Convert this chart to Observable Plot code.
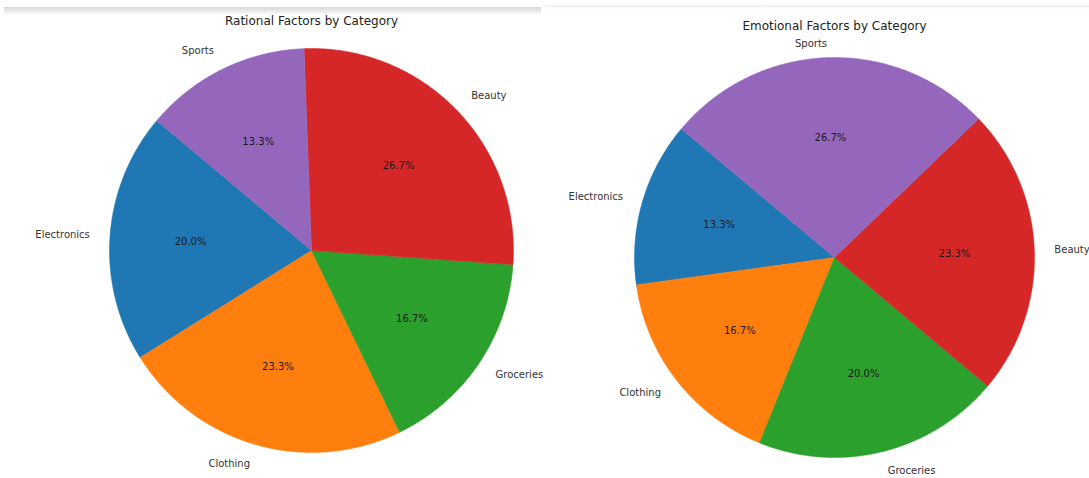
<!DOCTYPE html>
<html>
<head>
<meta charset="utf-8">
<script src="https://cdn.jsdelivr.net/npm/d3@7"></script>
<script src="https://cdn.jsdelivr.net/npm/@observablehq/plot@0.6"></script>
<style>
  html, body { margin: 0; padding: 0; background: #fff; }
  #wrap { position: relative; width: 1089px; height: 478px; overflow: hidden; display: flex; }
  #wrap > .panel { position: relative; z-index: 1; }
  .band { position: absolute; pointer-events: none; z-index: 0; }
</style>
</head>
<body>
<div id="wrap">
  <div class="band" style="left:4px;top:7px;width:537px;height:8px;background:linear-gradient(#d6d6d6,#fff)"></div>
  <div class="band" style="left:545px;top:5px;width:544px;height:4px;background:linear-gradient(#ececec,#fff)"></div>
  <div class="panel" id="p0" style="width:545px;height:478px"></div>
  <div class="panel" id="p1" style="width:544px;height:478px"></div>
</div>
<script>
// ---- data ----
const categories = ["Electronics", "Clothing", "Groceries", "Beauty", "Sports"];
const rationalPct = [20.0, 23.3, 16.7, 26.7, 13.3];
const emotionalPct = [13.3, 16.7, 20.0, 23.3, 26.7];
const chartTitles = ["Rational Factors by Category", "Emotional Factors by Category"];
const colors = ["#1f77b4", "#ff7f0e", "#2ca02c", "#d62728", "#9467bd"];

// ---- layout (not data) ----
const panels = [
  {el: "p0", values: rationalPct, title: chartTitles[0], width: 545, cx: 311, cy: 250, r: 202, titleY: 21},
  {el: "p1", values: emotionalPct, title: chartTitles[1], width: 544, cx: 289, cy: 257, r: 200, titleY: 26}
];
const startAngle = 140; // degrees, counterclockwise like matplotlib

function buildPie(values) {
  const total = d3.sum(values);
  const pts = [];
  const labels = [];
  let t1 = startAngle;
  values.forEach((v, i) => {
    const t2 = t1 + 360 * v / total;
    const cat = categories[i];
    pts.push({category: cat, x: 0, y: 0});
    const n = Math.max(2, Math.ceil(t2 - t1) * 2);
    for (let k = 0; k <= n; k++) {
      const a = (t1 + (t2 - t1) * k / n) * Math.PI / 180;
      pts.push({category: cat, x: Math.cos(a), y: Math.sin(a)});
    }
    pts.push({category: cat, x: 0, y: 0});
    const mid = ((t1 + t2) / 2) * Math.PI / 180;
    labels.push({
      category: cat,
      lx: 1.1 * Math.cos(mid), ly: 1.1 * Math.sin(mid),
      px: 0.6 * Math.cos(mid), py: 0.6 * Math.sin(mid),
      pct: (100 * v / total).toFixed(1) + "%"
    });
    t1 = t2;
  });
  return {pts, labels};
}

// labels sitting right under the title are nudged down a little so they do not collide
const isTop = d => d.ly > 1.08;

for (const p of panels) {
  const {pts, labels} = buildPie(p.values);
  const chart = Plot.plot({
    width: p.width,
    height: 478,
    margin: 0,
    style: {fontFamily: "DejaVu Sans, sans-serif", background: "transparent", overflow: "visible"},
    x: {domain: [-1, 1], range: [p.cx - p.r, p.cx + p.r], axis: null},
    y: {domain: [-1, 1], range: [p.cy + p.r, p.cy - p.r], axis: null},
    color: {domain: categories, range: colors},
    marks: [
      Plot.line(pts, {x: "x", y: "y", z: "category", fill: "category", stroke: "category", strokeWidth: 0.5, curve: "linear"}),
      Plot.text(labels, {filter: d => d.lx > 0 && !isTop(d), x: "lx", y: "ly", text: "category", textAnchor: "start", fontSize: 10, fill: "#333"}),
      Plot.text(labels, {filter: d => d.lx <= 0 && !isTop(d), x: "lx", y: "ly", text: "category", textAnchor: "end", fontSize: 10, fill: "#333"}),
      Plot.text(labels, {filter: d => isTop(d), x: "lx", y: "ly", dy: 6, text: "category", textAnchor: "end", fontSize: 10, fill: "#333"}),
      Plot.text(labels, {x: "px", y: "py", text: "pct", textAnchor: "middle", fontSize: 10, fill: "#1a1a1a"}),
      Plot.text([p.title], {x: 0, frameAnchor: "top", lineAnchor: "middle", dy: p.titleY, text: d => d, textAnchor: "middle", fontSize: 12, fill: "#222"})
    ]
  });
  document.getElementById(p.el).appendChild(chart);
}
</script>
</body>
</html>
